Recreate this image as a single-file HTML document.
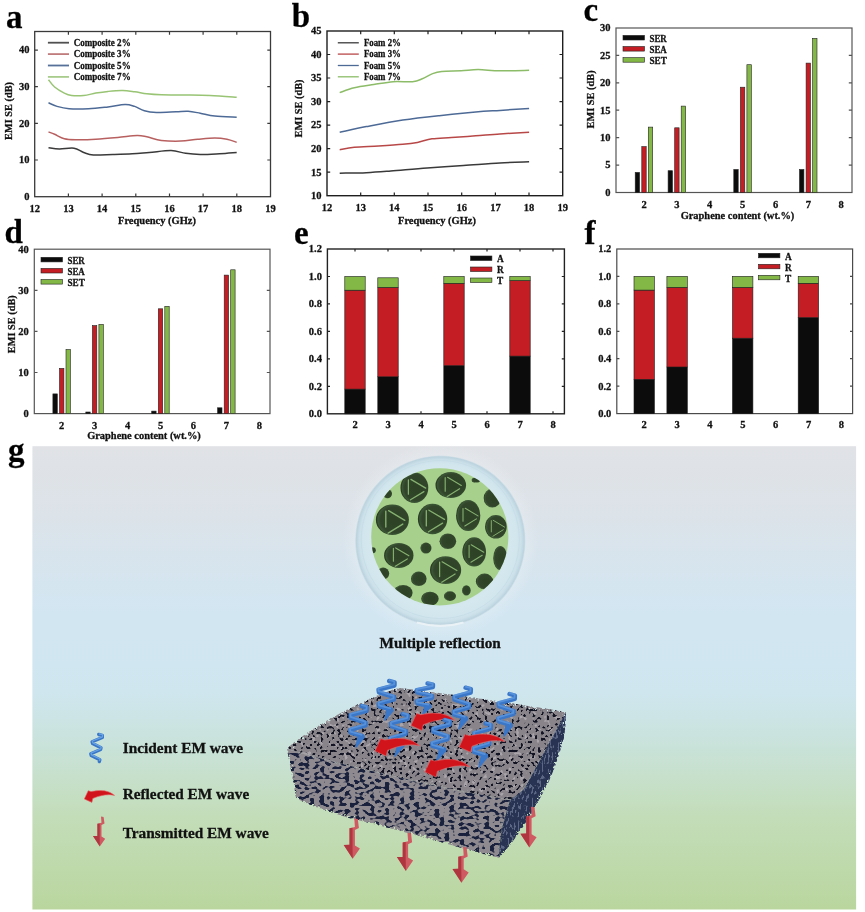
<!DOCTYPE html><html><head><meta charset="utf-8"><style>html,body{margin:0;padding:0;background:#fff;width:865px;height:912px;overflow:hidden}svg{display:block;will-change:transform} text{stroke:#111;stroke-width:0.28px}</style></head><body>
<svg width="865" height="912" viewBox="0 0 865 912" font-family="Liberation Serif" font-weight="bold">
<rect width="865" height="912" fill="#fff"/>
<text x="6.0" y="27.7" font-size="33" text-anchor="start" fill="#000" >a</text>
<text x="291.8" y="27.2" font-size="33" text-anchor="start" fill="#000" >b</text>
<text x="583.5" y="20.6" font-size="33" text-anchor="start" fill="#000" >c</text>
<text x="4.5" y="243.0" font-size="33" text-anchor="start" fill="#000" >d</text>
<text x="294.0" y="243.7" font-size="33" text-anchor="start" fill="#000" >e</text>
<text x="584.5" y="243.7" font-size="33" text-anchor="start" fill="#000" >f</text>
<text x="8.0" y="461.0" font-size="33" text-anchor="start" fill="#000" >g</text>
<rect x="34.7" y="31.5" width="235.8" height="165.2" fill="none" stroke="#3a3a3a" stroke-width="1.3"/><path d="M68.4,196.7v-3.2M68.4,31.5v3.2M102.1,196.7v-3.2M102.1,31.5v3.2M135.8,196.7v-3.2M135.8,31.5v3.2M169.5,196.7v-3.2M169.5,31.5v3.2M203.1,196.7v-3.2M203.1,31.5v3.2M236.8,196.7v-3.2M236.8,31.5v3.2M34.7,160.0h3.2M270.5,160.0h-3.2M34.7,123.4h3.2M270.5,123.4h-3.2M34.7,86.7h3.2M270.5,86.7h-3.2M34.7,50.1h3.2M270.5,50.1h-3.2" stroke="#3a3a3a" stroke-width="1.2" fill="none"/>
<text x="34.7" y="212.0" font-size="10.5" text-anchor="middle" fill="#111" >12</text>
<text x="68.4" y="212.0" font-size="10.5" text-anchor="middle" fill="#111" >13</text>
<text x="102.1" y="212.0" font-size="10.5" text-anchor="middle" fill="#111" >14</text>
<text x="135.8" y="212.0" font-size="10.5" text-anchor="middle" fill="#111" >15</text>
<text x="169.5" y="212.0" font-size="10.5" text-anchor="middle" fill="#111" >16</text>
<text x="203.1" y="212.0" font-size="10.5" text-anchor="middle" fill="#111" >17</text>
<text x="236.8" y="212.0" font-size="10.5" text-anchor="middle" fill="#111" >18</text>
<text x="270.5" y="212.0" font-size="10.5" text-anchor="middle" fill="#111" >19</text>
<text x="29.6" y="200.0" font-size="10.5" text-anchor="end" fill="#111" >0</text>
<text x="29.6" y="163.3" font-size="10.5" text-anchor="end" fill="#111" >10</text>
<text x="29.6" y="126.7" font-size="10.5" text-anchor="end" fill="#111" >20</text>
<text x="29.6" y="90.0" font-size="10.5" text-anchor="end" fill="#111" >30</text>
<text x="29.6" y="53.4" font-size="10.5" text-anchor="end" fill="#111" >40</text>
<text x="157.0" y="223.6" font-size="10.4" text-anchor="middle" textLength="78" lengthAdjust="spacingAndGlyphs" fill="#111" >Frequency (GHz)</text>
<text transform="translate(12.3,111) rotate(-90)" font-size="10.3" text-anchor="middle" fill="#111" textLength="58" lengthAdjust="spacingAndGlyphs">EMI SE (dB)</text>
<path d="M47.9,42.7H69" stroke="#505050" stroke-width="1.8"/>
<text x="73.7" y="46.0" font-size="9.5" text-anchor="start" textLength="57" lengthAdjust="spacingAndGlyphs" fill="#111" >Composite 2%</text>
<path d="M47.9,54.1H69" stroke="#c07c7c" stroke-width="1.8"/>
<text x="73.7" y="57.4" font-size="9.5" text-anchor="start" textLength="57" lengthAdjust="spacingAndGlyphs" fill="#111" >Composite 3%</text>
<path d="M47.9,65.5H69" stroke="#56709a" stroke-width="1.8"/>
<text x="73.7" y="68.8" font-size="9.5" text-anchor="start" textLength="57" lengthAdjust="spacingAndGlyphs" fill="#111" >Composite 5%</text>
<path d="M47.9,76.9H69" stroke="#a8cc8c" stroke-width="1.8"/>
<text x="73.7" y="80.2" font-size="9.5" text-anchor="start" textLength="57" lengthAdjust="spacingAndGlyphs" fill="#111" >Composite 7%</text>
<path d="M48.5,79.7 C49.5,80.9 52.0,84.8 54.6,87.0 C57.2,89.2 61.5,91.7 64.3,93.1 C67.1,94.5 68.4,95.1 71.6,95.5 C74.8,95.9 79.7,95.9 83.7,95.5 C87.7,95.1 91.8,93.8 95.8,93.1 C99.8,92.4 103.5,91.8 108.0,91.4 C112.5,91.0 118.0,90.5 122.5,90.6 C127.0,90.7 130.6,91.3 134.7,91.8 C138.8,92.3 142.4,93.3 146.8,93.8 C151.2,94.3 154.9,94.6 161.4,94.8 C167.9,95.0 177.6,94.9 185.7,95.0 C193.8,95.1 201.5,95.1 210.0,95.5 C218.5,95.9 232.2,96.9 236.7,97.2" stroke="#98c474" stroke-width="1.5" fill="none"/>
<path d="M48.5,102.8 C49.9,103.4 53.6,105.4 57.0,106.4 C60.4,107.4 63.8,108.4 69.1,108.8 C74.4,109.2 82.1,109.1 88.6,108.8 C95.1,108.5 101.9,107.6 108.0,106.9 C114.1,106.2 120.5,104.6 125.0,104.5 C129.4,104.4 131.5,105.4 134.7,106.4 C137.9,107.5 140.8,109.8 144.4,110.8 C148.0,111.8 151.2,112.3 156.5,112.5 C161.8,112.7 170.7,112.0 176.0,111.8 C181.3,111.6 184.1,111.1 188.1,111.3 C192.1,111.5 195.8,112.4 200.2,113.2 C204.6,114.0 208.7,115.4 214.8,116.1 C220.9,116.8 233.0,117.1 236.7,117.3" stroke="#4d6a96" stroke-width="1.5" fill="none"/>
<path d="M48.5,131.9 C49.5,132.3 52.0,133.2 54.6,134.3 C57.2,135.4 60.7,137.8 64.3,138.7 C67.9,139.6 71.2,139.6 76.4,139.7 C81.7,139.8 88.9,139.6 95.8,139.2 C102.7,138.8 110.8,138.1 117.7,137.5 C124.6,136.9 132.2,135.6 137.1,135.5 C141.9,135.4 142.8,136.0 146.8,136.8 C150.9,137.6 155.7,139.7 161.4,140.4 C167.1,141.1 174.7,141.3 180.8,141.1 C186.9,140.9 192.1,139.7 197.8,139.2 C203.5,138.7 209.9,138.0 214.8,138.0 C219.7,138.0 223.3,138.5 227.0,139.2 C230.7,139.9 235.1,141.8 236.7,142.3" stroke="#b86060" stroke-width="1.5" fill="none"/>
<path d="M48.5,147.7 C50.3,147.9 55.1,148.8 59.4,148.9 C63.6,149.0 70.0,147.6 74.0,148.2 C78.0,148.8 80.5,151.4 83.7,152.5 C86.9,153.6 88.6,154.7 93.4,155.0 C98.2,155.3 106.3,154.7 112.8,154.5 C119.3,154.3 126.2,154.1 132.3,153.8 C138.4,153.5 142.7,153.0 149.2,152.5 C155.7,152.0 165.0,150.5 171.1,150.6 C177.2,150.7 180.8,152.7 185.7,153.3 C190.5,154.0 194.5,154.4 200.2,154.5 C205.9,154.6 213.6,154.1 219.7,153.8 C225.8,153.5 233.9,152.7 236.7,152.5" stroke="#3a3a3a" stroke-width="1.5" fill="none"/>
<rect x="327" y="31" width="235.7" height="164.7" fill="none" stroke="#1e1e1e" stroke-width="1.4"/><path d="M360.7,195.7v-3.2M360.7,31v3.2M394.3,195.7v-3.2M394.3,31v3.2M428.0,195.7v-3.2M428.0,31v3.2M461.7,195.7v-3.2M461.7,31v3.2M495.4,195.7v-3.2M495.4,31v3.2M529.0,195.7v-3.2M529.0,31v3.2M327,172.2h3.2M562.7,172.2h-3.2M327,148.6h3.2M562.7,148.6h-3.2M327,125.1h3.2M562.7,125.1h-3.2M327,101.6h3.2M562.7,101.6h-3.2M327,78.0h3.2M562.7,78.0h-3.2M327,54.5h3.2M562.7,54.5h-3.2" stroke="#1e1e1e" stroke-width="1.2" fill="none"/>
<text x="327.0" y="211.0" font-size="10.5" text-anchor="middle" fill="#111" >12</text>
<text x="360.7" y="211.0" font-size="10.5" text-anchor="middle" fill="#111" >13</text>
<text x="394.3" y="211.0" font-size="10.5" text-anchor="middle" fill="#111" >14</text>
<text x="428.0" y="211.0" font-size="10.5" text-anchor="middle" fill="#111" >15</text>
<text x="461.7" y="211.0" font-size="10.5" text-anchor="middle" fill="#111" >16</text>
<text x="495.4" y="211.0" font-size="10.5" text-anchor="middle" fill="#111" >17</text>
<text x="529.0" y="211.0" font-size="10.5" text-anchor="middle" fill="#111" >18</text>
<text x="562.7" y="211.0" font-size="10.5" text-anchor="middle" fill="#111" >19</text>
<text x="321.6" y="199.0" font-size="10.5" text-anchor="end" fill="#111" >10</text>
<text x="321.6" y="175.5" font-size="10.5" text-anchor="end" fill="#111" >15</text>
<text x="321.6" y="151.9" font-size="10.5" text-anchor="end" fill="#111" >20</text>
<text x="321.6" y="128.4" font-size="10.5" text-anchor="end" fill="#111" >25</text>
<text x="321.6" y="104.9" font-size="10.5" text-anchor="end" fill="#111" >30</text>
<text x="321.6" y="81.3" font-size="10.5" text-anchor="end" fill="#111" >35</text>
<text x="321.6" y="57.8" font-size="10.5" text-anchor="end" fill="#111" >40</text>
<text x="321.6" y="34.3" font-size="10.5" text-anchor="end" fill="#111" >45</text>
<text x="437.0" y="224.0" font-size="10.4" text-anchor="middle" textLength="78" lengthAdjust="spacingAndGlyphs" fill="#111" >Frequency (GHz)</text>
<text transform="translate(302.3,108.5) rotate(-90)" font-size="10.3" text-anchor="middle" fill="#111" textLength="58" lengthAdjust="spacingAndGlyphs">EMI SE (dB)</text>
<path d="M337.8,42.8H358.8" stroke="#3a3a3a" stroke-width="1.3"/>
<text x="363.9" y="46.1" font-size="9.5" text-anchor="start" textLength="37" lengthAdjust="spacingAndGlyphs" fill="#111" >Foam 2%</text>
<path d="M337.8,54.1H358.8" stroke="#b84848" stroke-width="1.3"/>
<text x="363.9" y="57.4" font-size="9.5" text-anchor="start" textLength="37" lengthAdjust="spacingAndGlyphs" fill="#111" >Foam 3%</text>
<path d="M337.8,65.5H358.8" stroke="#4d6a96" stroke-width="1.3"/>
<text x="363.9" y="68.8" font-size="9.5" text-anchor="start" textLength="37" lengthAdjust="spacingAndGlyphs" fill="#111" >Foam 5%</text>
<path d="M337.8,76.8H358.8" stroke="#8cbc68" stroke-width="1.3"/>
<text x="363.9" y="80.1" font-size="9.5" text-anchor="start" textLength="37" lengthAdjust="spacingAndGlyphs" fill="#111" >Foam 7%</text>
<path d="M339.7,92.6 C342.1,91.8 348.6,89.1 354.3,87.8 C360.0,86.5 367.2,85.6 373.7,84.6 C380.2,83.6 386.6,82.2 393.1,81.7 C399.6,81.2 407.6,82.2 412.5,81.7 C417.4,81.2 419.1,80.1 422.3,78.8 C425.6,77.5 428.8,75.1 432.0,73.9 C435.2,72.7 436.8,72.0 441.7,71.5 C446.6,71.0 455.0,71.1 461.1,70.8 C467.2,70.5 471.6,69.6 478.1,69.6 C484.6,69.6 491.5,70.7 500.0,70.8 C508.5,70.9 524.2,70.4 529.1,70.3" stroke="#8cbc68" stroke-width="1.5" fill="none"/>
<path d="M339.7,132.2 C344.1,131.3 355.9,128.6 366.4,126.6 C376.9,124.6 390.7,121.9 402.8,120.1 C414.9,118.3 427.1,117.0 439.2,115.7 C451.3,114.4 465.6,113.0 475.7,112.1 C485.8,111.2 491.0,111.0 499.9,110.4 C508.8,109.8 524.2,108.7 529.1,108.4" stroke="#4d6a96" stroke-width="1.5" fill="none"/>
<path d="M339.7,149.7 C342.1,149.3 347.8,147.9 354.3,147.3 C360.8,146.7 370.5,146.5 378.6,146.0 C386.7,145.5 396.3,144.9 402.8,144.3 C409.3,143.7 412.5,143.3 417.4,142.4 C422.3,141.5 426.3,139.6 432.0,138.8 C437.7,138.0 444.1,138.0 451.4,137.5 C458.7,137.0 467.6,136.4 475.7,135.8 C483.8,135.2 491.0,134.5 499.9,133.9 C508.8,133.3 524.2,132.5 529.1,132.2" stroke="#b84848" stroke-width="1.5" fill="none"/>
<path d="M339.7,173.2 C344.1,173.1 357.9,173.1 366.4,172.7 C374.9,172.3 380.6,171.8 390.7,171.0 C400.8,170.2 415.0,168.8 427.1,167.9 C439.2,167.0 451.4,166.3 463.5,165.5 C475.6,164.7 489.0,163.6 499.9,163.0 C510.8,162.4 524.2,162.0 529.1,161.8" stroke="#3a3a3a" stroke-width="1.5" fill="none"/>
<rect x="616" y="28" width="236.0" height="164.5" fill="none" stroke="#555" stroke-width="1.2"/><path d="M616,165.1h3.2M852,165.1h-3.2M616,137.7h3.2M852,137.7h-3.2M616,110.2h3.2M852,110.2h-3.2M616,82.8h3.2M852,82.8h-3.2M616,55.4h3.2M852,55.4h-3.2" stroke="#555" stroke-width="1.2" fill="none"/>
<text x="644.0" y="208.2" font-size="10.5" text-anchor="middle" fill="#111" >2</text>
<text x="676.9" y="208.2" font-size="10.5" text-anchor="middle" fill="#111" >3</text>
<text x="709.7" y="208.2" font-size="10.5" text-anchor="middle" fill="#111" >4</text>
<text x="742.6" y="208.2" font-size="10.5" text-anchor="middle" fill="#111" >5</text>
<text x="775.5" y="208.2" font-size="10.5" text-anchor="middle" fill="#111" >6</text>
<text x="808.4" y="208.2" font-size="10.5" text-anchor="middle" fill="#111" >7</text>
<text x="841.2" y="208.2" font-size="10.5" text-anchor="middle" fill="#111" >8</text>
<text x="610.5" y="195.8" font-size="10.5" text-anchor="end" fill="#111" >0</text>
<text x="610.5" y="168.4" font-size="10.5" text-anchor="end" fill="#111" >5</text>
<text x="610.5" y="141.0" font-size="10.5" text-anchor="end" fill="#111" >10</text>
<text x="610.5" y="113.5" font-size="10.5" text-anchor="end" fill="#111" >15</text>
<text x="610.5" y="86.1" font-size="10.5" text-anchor="end" fill="#111" >20</text>
<text x="610.5" y="58.7" font-size="10.5" text-anchor="end" fill="#111" >25</text>
<text x="610.5" y="31.3" font-size="10.5" text-anchor="end" fill="#111" >30</text>
<rect x="635.2" y="172.4" width="4.4" height="20.1" fill="#0c0c0c" stroke="#222" stroke-width="0.6"/>
<rect x="641.8" y="146.6" width="4.4" height="45.9" fill="#c41e24" stroke="#222" stroke-width="0.6"/>
<rect x="648.3" y="127.1" width="4.4" height="65.4" fill="#84b846" stroke="#222" stroke-width="0.6"/>
<rect x="668.1" y="170.7" width="4.4" height="21.8" fill="#0c0c0c" stroke="#222" stroke-width="0.6"/>
<rect x="674.7" y="127.8" width="4.4" height="64.7" fill="#c41e24" stroke="#222" stroke-width="0.6"/>
<rect x="681.2" y="106.1" width="4.4" height="86.4" fill="#84b846" stroke="#222" stroke-width="0.6"/>
<rect x="733.8" y="169.5" width="4.4" height="23.0" fill="#0c0c0c" stroke="#222" stroke-width="0.6"/>
<rect x="740.4" y="87.2" width="4.4" height="105.3" fill="#c41e24" stroke="#222" stroke-width="0.6"/>
<rect x="746.9" y="64.7" width="4.4" height="127.8" fill="#84b846" stroke="#222" stroke-width="0.6"/>
<rect x="799.5" y="169.5" width="4.4" height="23.0" fill="#0c0c0c" stroke="#222" stroke-width="0.6"/>
<rect x="806.1" y="63.1" width="4.4" height="129.4" fill="#c41e24" stroke="#222" stroke-width="0.6"/>
<rect x="812.6" y="38.4" width="4.4" height="154.1" fill="#84b846" stroke="#222" stroke-width="0.6"/>
<rect x="623" y="35.4" width="21.5" height="4.6" fill="#0c0c0c" stroke="#222" stroke-width="0.6"/>
<text x="649.5" y="41.6" font-size="9.3" text-anchor="start" textLength="17.3" lengthAdjust="spacingAndGlyphs" fill="#111" >SER</text>
<rect x="623" y="46.5" width="21.5" height="4.6" fill="#c41e24" stroke="#222" stroke-width="0.6"/>
<text x="649.5" y="52.7" font-size="9.3" text-anchor="start" textLength="17.3" lengthAdjust="spacingAndGlyphs" fill="#111" >SEA</text>
<rect x="623" y="57.6" width="21.5" height="4.6" fill="#84b846" stroke="#222" stroke-width="0.6"/>
<text x="649.5" y="63.8" font-size="9.3" text-anchor="start" textLength="17.3" lengthAdjust="spacingAndGlyphs" fill="#111" >SET</text>
<text transform="translate(594.3,99.4) rotate(-90)" font-size="10.3" text-anchor="middle" fill="#111" textLength="58" lengthAdjust="spacingAndGlyphs">EMI SE (dB)</text>
<text x="737.5" y="219.2" font-size="10.4" text-anchor="middle" textLength="113.7" lengthAdjust="spacingAndGlyphs" fill="#111" >Graphene content (wt.%)</text>
<rect x="34.3" y="249.2" width="235.7" height="164.4" fill="none" stroke="#555" stroke-width="1.2"/><path d="M34.3,372.5h3.2M270,372.5h-3.2M34.3,331.4h3.2M270,331.4h-3.2M34.3,290.3h3.2M270,290.3h-3.2" stroke="#555" stroke-width="1.2" fill="none"/>
<text x="61.7" y="428.5" font-size="10.5" text-anchor="middle" fill="#111" >2</text>
<text x="94.6" y="428.5" font-size="10.5" text-anchor="middle" fill="#111" >3</text>
<text x="127.6" y="428.5" font-size="10.5" text-anchor="middle" fill="#111" >4</text>
<text x="160.5" y="428.5" font-size="10.5" text-anchor="middle" fill="#111" >5</text>
<text x="193.4" y="428.5" font-size="10.5" text-anchor="middle" fill="#111" >6</text>
<text x="226.4" y="428.5" font-size="10.5" text-anchor="middle" fill="#111" >7</text>
<text x="259.3" y="428.5" font-size="10.5" text-anchor="middle" fill="#111" >8</text>
<text x="28.8" y="416.9" font-size="10.5" text-anchor="end" fill="#111" >0</text>
<text x="28.8" y="375.8" font-size="10.5" text-anchor="end" fill="#111" >10</text>
<text x="28.8" y="334.7" font-size="10.5" text-anchor="end" fill="#111" >20</text>
<text x="28.8" y="293.6" font-size="10.5" text-anchor="end" fill="#111" >30</text>
<text x="28.8" y="252.5" font-size="10.5" text-anchor="end" fill="#111" >40</text>
<rect x="52.9" y="393.9" width="4.4" height="19.7" fill="#0c0c0c" stroke="#222" stroke-width="0.6"/>
<rect x="59.5" y="368.4" width="4.4" height="45.2" fill="#c41e24" stroke="#222" stroke-width="0.6"/>
<rect x="66.0" y="349.5" width="4.4" height="64.1" fill="#84b846" stroke="#222" stroke-width="0.6"/>
<rect x="85.8" y="412.0" width="4.4" height="1.6" fill="#0c0c0c" stroke="#222" stroke-width="0.6"/>
<rect x="92.4" y="325.6" width="4.4" height="88.0" fill="#c41e24" stroke="#222" stroke-width="0.6"/>
<rect x="98.9" y="324.4" width="4.4" height="89.2" fill="#84b846" stroke="#222" stroke-width="0.6"/>
<rect x="151.7" y="411.1" width="4.4" height="2.5" fill="#0c0c0c" stroke="#222" stroke-width="0.6"/>
<rect x="158.3" y="308.8" width="4.4" height="104.8" fill="#c41e24" stroke="#222" stroke-width="0.6"/>
<rect x="164.8" y="306.3" width="4.4" height="107.3" fill="#84b846" stroke="#222" stroke-width="0.6"/>
<rect x="217.6" y="407.8" width="4.4" height="5.8" fill="#0c0c0c" stroke="#222" stroke-width="0.6"/>
<rect x="224.2" y="275.1" width="4.4" height="138.5" fill="#c41e24" stroke="#222" stroke-width="0.6"/>
<rect x="230.7" y="269.8" width="4.4" height="143.9" fill="#84b846" stroke="#222" stroke-width="0.6"/>
<rect x="41" y="257.3" width="21.5" height="4.6" fill="#0c0c0c" stroke="#222" stroke-width="0.6"/>
<text x="67.5" y="263.5" font-size="9.3" text-anchor="start" textLength="17.3" lengthAdjust="spacingAndGlyphs" fill="#111" >SER</text>
<rect x="41" y="268.4" width="21.5" height="4.6" fill="#c41e24" stroke="#222" stroke-width="0.6"/>
<text x="67.5" y="274.6" font-size="9.3" text-anchor="start" textLength="17.3" lengthAdjust="spacingAndGlyphs" fill="#111" >SEA</text>
<rect x="41" y="279.5" width="21.5" height="4.6" fill="#84b846" stroke="#222" stroke-width="0.6"/>
<text x="67.5" y="285.7" font-size="9.3" text-anchor="start" textLength="17.3" lengthAdjust="spacingAndGlyphs" fill="#111" >SET</text>
<text transform="translate(15.4,324.2) rotate(-90)" font-size="10.3" text-anchor="middle" fill="#111" textLength="58" lengthAdjust="spacingAndGlyphs">EMI SE (dB)</text>
<text x="144.0" y="439.4" font-size="10.4" text-anchor="middle" textLength="113.7" lengthAdjust="spacingAndGlyphs" fill="#111" >Graphene content (wt.%)</text>
<rect x="327.4" y="249" width="237.0" height="164.8" fill="none" stroke="#222" stroke-width="1.4"/><path d="M355.0,413.8v-2.6M355.0,249v2.6M388.0,413.8v-2.6M388.0,249v2.6M421.0,413.8v-2.6M421.0,249v2.6M454.0,413.8v-2.6M454.0,249v2.6M487.0,413.8v-2.6M487.0,249v2.6M520.0,413.8v-2.6M520.0,249v2.6M553.0,413.8v-2.6M553.0,249v2.6M327.4,386.3h2.6M564.4,386.3h-2.6M327.4,358.9h2.6M564.4,358.9h-2.6M327.4,331.4h2.6M564.4,331.4h-2.6M327.4,303.9h2.6M564.4,303.9h-2.6M327.4,276.5h2.6M564.4,276.5h-2.6" stroke="#222" stroke-width="1.2" fill="none"/>
<text x="355.0" y="428.2" font-size="10.5" text-anchor="middle" fill="#111" >2</text>
<text x="388.0" y="428.2" font-size="10.5" text-anchor="middle" fill="#111" >3</text>
<text x="421.0" y="428.2" font-size="10.5" text-anchor="middle" fill="#111" >4</text>
<text x="454.0" y="428.2" font-size="10.5" text-anchor="middle" fill="#111" >5</text>
<text x="487.0" y="428.2" font-size="10.5" text-anchor="middle" fill="#111" >6</text>
<text x="520.0" y="428.2" font-size="10.5" text-anchor="middle" fill="#111" >7</text>
<text x="553.0" y="428.2" font-size="10.5" text-anchor="middle" fill="#111" >8</text>
<text x="321.9" y="417.1" font-size="10.5" text-anchor="end" fill="#111" >0.0</text>
<text x="321.9" y="389.6" font-size="10.5" text-anchor="end" fill="#111" >0.2</text>
<text x="321.9" y="362.2" font-size="10.5" text-anchor="end" fill="#111" >0.4</text>
<text x="321.9" y="334.7" font-size="10.5" text-anchor="end" fill="#111" >0.6</text>
<text x="321.9" y="307.2" font-size="10.5" text-anchor="end" fill="#111" >0.8</text>
<text x="321.9" y="279.8" font-size="10.5" text-anchor="end" fill="#111" >1.0</text>
<text x="321.9" y="252.3" font-size="10.5" text-anchor="end" fill="#111" >1.2</text>
<rect x="344.8" y="389.1" width="20.4" height="24.7" fill="#0c0c0c" stroke="#1a1a1a" stroke-width="0.6"/>
<rect x="344.8" y="290.2" width="20.4" height="98.9" fill="#c41e24" stroke="#1a1a1a" stroke-width="0.6"/>
<rect x="344.8" y="276.5" width="20.4" height="13.7" fill="#84b846" stroke="#1a1a1a" stroke-width="0.6"/>
<rect x="377.8" y="376.7" width="20.4" height="37.1" fill="#0c0c0c" stroke="#1a1a1a" stroke-width="0.6"/>
<rect x="377.8" y="287.5" width="20.4" height="89.3" fill="#c41e24" stroke="#1a1a1a" stroke-width="0.6"/>
<rect x="377.8" y="277.8" width="20.4" height="9.6" fill="#84b846" stroke="#1a1a1a" stroke-width="0.6"/>
<rect x="443.8" y="365.7" width="20.4" height="48.1" fill="#0c0c0c" stroke="#1a1a1a" stroke-width="0.6"/>
<rect x="443.8" y="283.3" width="20.4" height="82.4" fill="#c41e24" stroke="#1a1a1a" stroke-width="0.6"/>
<rect x="443.8" y="276.5" width="20.4" height="6.9" fill="#84b846" stroke="#1a1a1a" stroke-width="0.6"/>
<rect x="509.8" y="356.1" width="20.4" height="57.7" fill="#0c0c0c" stroke="#1a1a1a" stroke-width="0.6"/>
<rect x="509.8" y="280.6" width="20.4" height="75.5" fill="#c41e24" stroke="#1a1a1a" stroke-width="0.6"/>
<rect x="509.8" y="276.5" width="20.4" height="4.1" fill="#84b846" stroke="#1a1a1a" stroke-width="0.6"/>
<rect x="470.5" y="256.0" width="21.4" height="4.5" fill="#0c0c0c" stroke="#222" stroke-width="0.6"/>
<text x="497.0" y="262.2" font-size="9.3" text-anchor="start" fill="#111" >A</text>
<rect x="470.5" y="267.0" width="21.4" height="4.5" fill="#c41e24" stroke="#222" stroke-width="0.6"/>
<text x="497.0" y="273.2" font-size="9.3" text-anchor="start" fill="#111" >R</text>
<rect x="470.5" y="278.0" width="21.4" height="4.5" fill="#84b846" stroke="#222" stroke-width="0.6"/>
<text x="497.0" y="284.2" font-size="9.3" text-anchor="start" fill="#111" >T</text>
<rect x="616.8" y="249" width="235.8" height="164.6" fill="none" stroke="#4a4a4a" stroke-width="1.2"/><path d="M616.8,386.2h2.6M852.6,386.2h-2.6M616.8,358.7h2.6M852.6,358.7h-2.6M616.8,331.3h2.6M852.6,331.3h-2.6M616.8,303.9h2.6M852.6,303.9h-2.6M616.8,276.4h2.6M852.6,276.4h-2.6" stroke="#4a4a4a" stroke-width="1.2" fill="none"/>
<text x="644.2" y="428.2" font-size="10.5" text-anchor="middle" fill="#111" >2</text>
<text x="677.1" y="428.2" font-size="10.5" text-anchor="middle" fill="#111" >3</text>
<text x="709.9" y="428.2" font-size="10.5" text-anchor="middle" fill="#111" >4</text>
<text x="742.8" y="428.2" font-size="10.5" text-anchor="middle" fill="#111" >5</text>
<text x="775.6" y="428.2" font-size="10.5" text-anchor="middle" fill="#111" >6</text>
<text x="808.5" y="428.2" font-size="10.5" text-anchor="middle" fill="#111" >7</text>
<text x="841.3" y="428.2" font-size="10.5" text-anchor="middle" fill="#111" >8</text>
<text x="611.3" y="416.9" font-size="10.5" text-anchor="end" fill="#111" >0.0</text>
<text x="611.3" y="389.5" font-size="10.5" text-anchor="end" fill="#111" >0.2</text>
<text x="611.3" y="362.0" font-size="10.5" text-anchor="end" fill="#111" >0.4</text>
<text x="611.3" y="334.6" font-size="10.5" text-anchor="end" fill="#111" >0.6</text>
<text x="611.3" y="307.2" font-size="10.5" text-anchor="end" fill="#111" >0.8</text>
<text x="611.3" y="279.7" font-size="10.5" text-anchor="end" fill="#111" >1.0</text>
<text x="611.3" y="252.3" font-size="10.5" text-anchor="end" fill="#111" >1.2</text>
<rect x="634.0" y="379.3" width="20.4" height="34.3" fill="#0c0c0c" stroke="#1a1a1a" stroke-width="0.6"/>
<rect x="634.0" y="290.1" width="20.4" height="89.2" fill="#c41e24" stroke="#1a1a1a" stroke-width="0.6"/>
<rect x="634.0" y="276.4" width="20.4" height="13.7" fill="#84b846" stroke="#1a1a1a" stroke-width="0.6"/>
<rect x="666.9" y="367.0" width="20.4" height="46.6" fill="#0c0c0c" stroke="#1a1a1a" stroke-width="0.6"/>
<rect x="666.9" y="287.4" width="20.4" height="79.6" fill="#c41e24" stroke="#1a1a1a" stroke-width="0.6"/>
<rect x="666.9" y="276.4" width="20.4" height="11.0" fill="#84b846" stroke="#1a1a1a" stroke-width="0.6"/>
<rect x="732.5" y="338.2" width="20.4" height="75.4" fill="#0c0c0c" stroke="#1a1a1a" stroke-width="0.6"/>
<rect x="732.5" y="287.4" width="20.4" height="50.8" fill="#c41e24" stroke="#1a1a1a" stroke-width="0.6"/>
<rect x="732.5" y="276.4" width="20.4" height="11.0" fill="#84b846" stroke="#1a1a1a" stroke-width="0.6"/>
<rect x="798.2" y="317.6" width="20.4" height="96.0" fill="#0c0c0c" stroke="#1a1a1a" stroke-width="0.6"/>
<rect x="798.2" y="283.3" width="20.4" height="34.3" fill="#c41e24" stroke="#1a1a1a" stroke-width="0.6"/>
<rect x="798.2" y="276.4" width="20.4" height="6.9" fill="#84b846" stroke="#1a1a1a" stroke-width="0.6"/>
<rect x="758.5" y="253.3" width="21.4" height="4.5" fill="#0c0c0c" stroke="#222" stroke-width="0.6"/>
<text x="785.0" y="259.5" font-size="9.3" text-anchor="start" fill="#111" >A</text>
<rect x="758.5" y="264.3" width="21.4" height="4.5" fill="#c41e24" stroke="#222" stroke-width="0.6"/>
<text x="785.0" y="270.5" font-size="9.3" text-anchor="start" fill="#111" >R</text>
<rect x="758.5" y="275.3" width="21.4" height="4.5" fill="#84b846" stroke="#222" stroke-width="0.6"/>
<text x="785.0" y="281.5" font-size="9.3" text-anchor="start" fill="#111" >T</text>
<defs>
<linearGradient id="bg" x1="0" y1="0" x2="0" y2="1">
 <stop offset="0" stop-color="#e0e2e6"/>
 <stop offset="0.15" stop-color="#dce3e9"/>
 <stop offset="0.36" stop-color="#d2e6f2"/>
 <stop offset="0.53" stop-color="#cfe6ef"/>
 <stop offset="0.65" stop-color="#c9e2d9"/>
 <stop offset="0.8" stop-color="#c3ddb9"/>
 <stop offset="1" stop-color="#bad69e"/>
</linearGradient>
<radialGradient id="halo" cx="0.5" cy="0.5" r="0.5">
 <stop offset="0.6" stop-color="#eef3f6" stop-opacity="0.9"/>
 <stop offset="1" stop-color="#eef3f6" stop-opacity="0"/>
</radialGradient>
<radialGradient id="glass" cx="0.5" cy="0.5" r="0.5">
 <stop offset="0.78" stop-color="#d6e8ef"/>
 <stop offset="0.9" stop-color="#d2e6ee"/>
 <stop offset="0.95" stop-color="#cbe0e9"/>
 <stop offset="0.985" stop-color="#bcd4df"/>
 <stop offset="1" stop-color="#c6dae3" stop-opacity="0.5"/>
</radialGradient>
<radialGradient id="hole" cx="0.55" cy="0.5" r="0.55" fx="0.6" fy="0.5">
 <stop offset="0" stop-color="#2e4226"/>
 <stop offset="0.75" stop-color="#30452a"/>
 <stop offset="0.9" stop-color="#3c5636"/>
 <stop offset="1" stop-color="#1f2e1a"/>
</radialGradient>
<filter id="soft" x="-20%" y="-20%" width="140%" height="140%"><feGaussianBlur stdDeviation="0.6"/></filter>
<filter id="foamtex" x="-5%" y="-5%" width="110%" height="110%">
 <feTurbulence type="turbulence" baseFrequency="0.42" numOctaves="2" seed="7" result="n"/>
 <feColorMatrix in="n" type="matrix" values="0 0 0 0 0.16  0 0 0 0 0.18  0 0 0 0 0.30  -9 0 0 0 2.1" result="pores"/>
 <feComposite in="pores" in2="SourceGraphic" operator="atop" result="t"/>
 <feTurbulence type="fractalNoise" baseFrequency="0.5" numOctaves="1" seed="3" result="n2"/>
 <feDisplacementMap in="t" in2="n2" scale="3" xChannelSelector="R" yChannelSelector="G"/>
</filter>
<clipPath id="disc"><circle cx="439.8" cy="536.8" r="68.6"/></clipPath>
</defs>
<rect x="32.4" y="446.2" width="823.7" height="463.3" fill="url(#bg)"/>
<circle cx="440.3" cy="540.7" r="98" fill="url(#halo)"/>
<circle cx="440.3" cy="540.7" r="85.2" fill="url(#glass)"/>
<circle cx="440" cy="537.2" r="70" fill="#d4e7ee"/><path d="M417,622.5 A82.5 82.5 0 0 0 463.5,622.5" stroke="#eef5f8" stroke-width="2.2" fill="none" opacity="0.85"/><circle cx="440.3" cy="539.5" r="79" fill="none" stroke="#c4dbe5" stroke-width="1" opacity="0.7"/>
<g clip-path="url(#disc)">
<rect x="370" y="467" width="140" height="140" fill="#a7d08c"/>
<ellipse cx="414.4" cy="487.7" rx="13.9" ry="15.3" fill="url(#hole)" filter="url(#soft)"/>
<path d="M408.4,479.8L408.4,494.2M410.9,479.4L425.7,488.1M423.9,491.6L410.5,499.8" stroke="#86b070" stroke-width="1.25" fill="none" stroke-linecap="round"/>
<ellipse cx="450.8" cy="485.1" rx="15.3" ry="13" fill="url(#hole)" filter="url(#soft)"/>
<path d="M445.2,477.7L445.2,491.2M447.6,477.3L461.3,485.5M459.6,488.7L447.2,496.4" stroke="#86b070" stroke-width="1.17" fill="none" stroke-linecap="round"/>
<ellipse cx="476" cy="480" rx="4.3" ry="2.6" fill="url(#hole)" filter="url(#soft)"/>
<ellipse cx="387.5" cy="493.8" rx="4.5" ry="4.5" fill="url(#hole)" filter="url(#soft)"/>
<ellipse cx="492.4" cy="498.1" rx="8.7" ry="9.5" fill="url(#hole)" filter="url(#soft)"/>
<ellipse cx="392.4" cy="519.8" rx="16.5" ry="15.3" fill="url(#hole)" filter="url(#soft)"/>
<path d="M385.8,511.1L385.8,527.0M388.6,510.6L404.8,520.3M402.8,524.1L388.1,533.1" stroke="#86b070" stroke-width="1.38" fill="none" stroke-linecap="round"/>
<ellipse cx="432.6" cy="519" rx="14.7" ry="15.3" fill="url(#hole)" filter="url(#soft)"/>
<path d="M426.3,510.6L426.3,525.9M428.9,510.2L444.5,519.4M442.6,523.1L428.5,531.8" stroke="#86b070" stroke-width="1.32" fill="none" stroke-linecap="round"/>
<ellipse cx="468.2" cy="515.5" rx="12.1" ry="15.6" fill="url(#hole)" filter="url(#soft)"/>
<path d="M463.0,508.6L463.0,521.2M465.2,508.2L478.0,515.9M476.4,518.9L464.8,526.0" stroke="#86b070" stroke-width="1.09" fill="none" stroke-linecap="round"/>
<ellipse cx="495.9" cy="526.8" rx="10.8" ry="11.8" fill="url(#hole)" filter="url(#soft)"/>
<path d="M491.3,520.6L491.3,531.9M493.2,520.3L504.6,527.1M503.2,529.8L492.9,536.2" stroke="#86b070" stroke-width="0.97" fill="none" stroke-linecap="round"/>
<ellipse cx="447.9" cy="541.2" rx="8.3" ry="7.8" fill="url(#hole)" filter="url(#soft)"/>
<ellipse cx="426" cy="548.1" rx="5.5" ry="5.5" fill="url(#hole)" filter="url(#soft)"/>
<ellipse cx="398.8" cy="555.4" rx="14.7" ry="12.5" fill="url(#hole)" filter="url(#soft)"/>
<path d="M393.4,548.3L393.4,561.3M395.7,547.9L408.9,555.8M407.3,558.9L395.3,566.3" stroke="#86b070" stroke-width="1.12" fill="none" stroke-linecap="round"/>
<ellipse cx="474.2" cy="551.9" rx="11.8" ry="14.7" fill="url(#hole)" filter="url(#soft)"/>
<path d="M469.1,545.2L469.1,557.4M471.2,544.8L483.8,552.3M482.2,555.2L470.9,562.2" stroke="#86b070" stroke-width="1.06" fill="none" stroke-linecap="round"/>
<ellipse cx="500.3" cy="558" rx="7" ry="12" fill="url(#hole)" filter="url(#soft)"/>
<ellipse cx="445.6" cy="570.1" rx="15.6" ry="13.9" fill="url(#hole)" filter="url(#soft)"/>
<path d="M439.6,562.2L439.6,576.6M442.1,561.8L456.9,570.5M455.1,574.0L441.7,582.2" stroke="#86b070" stroke-width="1.25" fill="none" stroke-linecap="round"/>
<ellipse cx="372.8" cy="550.2" rx="3" ry="3" fill="url(#hole)" filter="url(#soft)"/>
<ellipse cx="383.2" cy="573.6" rx="6" ry="6" fill="url(#hole)" filter="url(#soft)"/>
<ellipse cx="418.8" cy="578.8" rx="7.8" ry="7.3" fill="url(#hole)" filter="url(#soft)"/>
<ellipse cx="484.6" cy="581.4" rx="8.7" ry="7.8" fill="url(#hole)" filter="url(#soft)"/>
<ellipse cx="403.1" cy="592.7" rx="9.5" ry="7.8" fill="url(#hole)" filter="url(#soft)"/>
<ellipse cx="430" cy="598.7" rx="8.7" ry="7" fill="url(#hole)" filter="url(#soft)"/>
<ellipse cx="450" cy="596.1" rx="6" ry="4.9" fill="url(#hole)" filter="url(#soft)"/>
<ellipse cx="466.4" cy="590.4" rx="4.3" ry="5.2" fill="url(#hole)" filter="url(#soft)"/>
</g>
<text x="440.2" y="648" font-size="15.2" text-anchor="middle" fill="#111" textLength="121.3" lengthAdjust="spacingAndGlyphs">Multiple reflection</text>
<defs>
<filter id="poreTop" color-interpolation-filters="sRGB" filterUnits="userSpaceOnUse" x="270" y="670" width="320" height="210">
 <feTurbulence type="fractalNoise" baseFrequency="0.34" numOctaves="1" seed="11"/>
 <feColorMatrix type="matrix" values="0 0 0 0 0.07  0 0 0 0 0.08  0 0 0 0 0.14  15 0 0 0 -8.6"/>
 <feGaussianBlur stdDeviation="0.35"/>
 <feComposite in2="SourceAlpha" operator="in"/>
</filter>
<filter id="hiTop" color-interpolation-filters="sRGB" filterUnits="userSpaceOnUse" x="270" y="670" width="320" height="210">
 <feTurbulence type="fractalNoise" baseFrequency="0.25" numOctaves="1" seed="5"/>
 <feColorMatrix type="matrix" values="0 0 0 0 0.75  0 0 0 0 0.73  0 0 0 0 0.75  -12 0 0 0 4.8"/>
 <feComposite in2="SourceAlpha" operator="in"/>
</filter>
<filter id="poreFront" color-interpolation-filters="sRGB" filterUnits="userSpaceOnUse" x="270" y="670" width="320" height="210">
 <feTurbulence type="fractalNoise" baseFrequency="0.2 0.3" numOctaves="1" seed="4"/>
 <feColorMatrix type="matrix" values="0 0 0 0 0.10  0 0 0 0 0.13  0 0 0 0 0.24  14 0 0 0 -7.2"/>
 <feGaussianBlur stdDeviation="0.4"/>
 <feComposite in2="SourceAlpha" operator="in"/>
</filter>
<filter id="streakRight" color-interpolation-filters="sRGB" filterUnits="userSpaceOnUse" x="270" y="670" width="320" height="210">
 <feTurbulence type="fractalNoise" baseFrequency="0.5 0.2" numOctaves="2" seed="9"/>
 <feColorMatrix type="matrix" values="0 0 0 0 0.36  0 0 0 0 0.40  0 0 0 0 0.52  12 0 0 0 -6.6"/>
 <feComposite in2="SourceAlpha" operator="in"/>
</filter>
<filter id="rough" color-interpolation-filters="sRGB" filterUnits="userSpaceOnUse" x="270" y="670" width="320" height="210">
 <feTurbulence type="fractalNoise" baseFrequency="0.45" numOctaves="2" seed="2" result="n"/>
 <feDisplacementMap in="SourceAlpha" in2="n" scale="11" xChannelSelector="R" yChannelSelector="G" result="a"/>
 <feComposite in="SourceGraphic" in2="a" operator="in"/>
</filter>
</defs>
<g filter="url(#rough)">
<path d="M287,749 C300,735 340,712 365,701 C380,694 392,689 400,688 C450,694 520,704 566,712 C555,732 536,768 524,789 C519,794 514,797 510,800 C450,790 340,765 287,749Z" fill="#88848a"/>
<path d="M287,749 C300,735 340,712 365,701 C380,694 392,689 400,688 C450,694 520,704 566,712 C555,732 536,768 524,789 C519,794 514,797 510,800 C450,790 340,765 287,749Z" fill="#000" filter="url(#hiTop)" opacity="0.6"/>
<path d="M287,749 C300,735 340,712 365,701 C380,694 392,689 400,688 C450,694 520,704 566,712 C555,732 536,768 524,789 C519,794 514,797 510,800 C450,790 340,765 287,749Z" fill="#000" filter="url(#poreTop)"/>
<path d="M287,749 C340,765 450,790 510,800 C507,810 504,820 502,828 C500,840 499,850 499,858 C460,848 400,830 349,818 C330,812 310,806 296,798 Z" fill="#8e8a90"/>
<path d="M287,749 C340,765 450,790 510,800 C507,810 504,820 502,828 C500,840 499,850 499,858 C460,848 400,830 349,818 C330,812 310,806 296,798 Z" fill="#000" filter="url(#poreFront)"/>
<path d="M566,712 C566,722 565,732 564,738 C560,752 555,768 549,781 C542,795 535,808 528,819 C520,832 510,846 499,858 C499,850 500,840 502,828 C504,820 507,810 510,800 C514,797 519,794 524,789 C536,768 555,732 566,712 Z" fill="#283252"/>
<path d="M566,712 C566,722 565,732 564,738 C560,752 555,768 549,781 C542,795 535,808 528,819 C520,832 510,846 499,858 C499,850 500,840 502,828 C504,820 507,810 510,800 C514,797 519,794 524,789 C536,768 555,732 566,712 Z" fill="#000" filter="url(#streakRight)"/>
</g>
<path d="M389.1,681.0 L394.6,682.4 L394.5,685.5 L378.5,689.6 L378.9,692.3 L393.9,696.9 L393.8,699.6 L378.8,703.7 L379.2,706.4 L391.2,709.6" stroke="#3b77c8" stroke-width="4.4" fill="none" stroke-linejoin="round" stroke-linecap="round"/><path d="M387.2,708.1 L393.0,710.8 L385.0,720.0 Z" fill="#3b77c8" stroke="#3b77c8" stroke-width="1.5" stroke-linejoin="round"/><path d="M389.1,681.0 L394.6,682.4 L394.5,685.5 L378.5,689.6 L378.9,692.3 L393.9,696.9 L393.8,699.6 L378.8,703.7 L379.2,706.4 L391.2,709.6" stroke="#6ea8ea" stroke-width="1.8" fill="none" stroke-linejoin="round" transform="translate(-0.3,-1.1)" opacity="0.55"/>
<path d="M427.5,683.5 L433.0,684.6 L432.9,687.0 L416.8,690.2 L417.2,692.4 L432.1,695.9 L432.0,698.0 L416.9,701.2 L417.3,703.4 L429.3,705.8" stroke="#3b77c8" stroke-width="4.4" fill="none" stroke-linejoin="round" stroke-linecap="round"/><path d="M425.3,704.3 L431.1,707.0 L423.0,714.0 Z" fill="#3b77c8" stroke="#3b77c8" stroke-width="1.5" stroke-linejoin="round"/><path d="M427.5,683.5 L433.0,684.6 L432.9,687.0 L416.8,690.2 L417.2,692.4 L432.1,695.9 L432.0,698.0 L416.9,701.2 L417.3,703.4 L429.3,705.8" stroke="#6ea8ea" stroke-width="1.8" fill="none" stroke-linejoin="round" transform="translate(-0.3,-1.1)" opacity="0.55"/>
<path d="M465.5,687.7 L470.9,689.1 L470.7,692.5 L454.3,696.8 L454.6,699.7 L469.3,704.5 L469.1,707.4 L453.8,711.7 L454.0,714.6 L465.8,718.0" stroke="#3b77c8" stroke-width="4.4" fill="none" stroke-linejoin="round" stroke-linecap="round"/><path d="M461.8,716.5 L467.6,719.2 L459.0,729.0 Z" fill="#3b77c8" stroke="#3b77c8" stroke-width="1.5" stroke-linejoin="round"/><path d="M465.5,687.7 L470.9,689.1 L470.7,692.5 L454.3,696.8 L454.6,699.7 L469.3,704.5 L469.1,707.4 L453.8,711.7 L454.0,714.6 L465.8,718.0" stroke="#6ea8ea" stroke-width="1.8" fill="none" stroke-linejoin="round" transform="translate(-0.3,-1.1)" opacity="0.55"/>
<path d="M509.5,694.0 L514.9,695.5 L514.8,698.9 L498.6,703.3 L498.9,706.2 L513.7,711.1 L513.5,714.0 L498.3,718.4 L498.7,721.3 L510.5,724.8" stroke="#3b77c8" stroke-width="4.4" fill="none" stroke-linejoin="round" stroke-linecap="round"/><path d="M506.5,723.3 L512.3,726.0 L504.0,736.0 Z" fill="#3b77c8" stroke="#3b77c8" stroke-width="1.5" stroke-linejoin="round"/><path d="M509.5,694.0 L514.9,695.5 L514.8,698.9 L498.6,703.3 L498.9,706.2 L513.7,711.1 L513.5,714.0 L498.3,718.4 L498.7,721.3 L510.5,724.8" stroke="#6ea8ea" stroke-width="1.8" fill="none" stroke-linejoin="round" transform="translate(-0.3,-1.1)" opacity="0.55"/>
<path d="M411.0,725.5 L416.6,713.5 L420.7,714.7 Q443.0,709.5 455.0,720.3 Q442.0,717.0 423.3,724.7 L422.0,730.5 Z" fill="#d1141c" stroke="#e46a6a" stroke-width="0.6" stroke-linejoin="round"/>
<path d="M361.5,706.0 L366.9,707.4 L366.8,710.8 L350.6,715.1 L350.9,717.9 L365.7,722.7 L365.5,725.5 L350.3,729.8 L350.7,732.7 L362.5,736.0" stroke="#3b77c8" stroke-width="4.4" fill="none" stroke-linejoin="round" stroke-linecap="round"/><path d="M358.5,734.5 L364.3,737.2 L356.0,747.0 Z" fill="#3b77c8" stroke="#3b77c8" stroke-width="1.5" stroke-linejoin="round"/><path d="M361.5,706.0 L366.9,707.4 L366.8,710.8 L350.6,715.1 L350.9,717.9 L365.7,722.7 L365.5,725.5 L350.3,729.8 L350.7,732.7 L362.5,736.0" stroke="#6ea8ea" stroke-width="1.8" fill="none" stroke-linejoin="round" transform="translate(-0.3,-1.1)" opacity="0.55"/>
<path d="M402.5,714.0 L407.9,715.5 L407.5,718.9 L391.1,723.3 L391.3,726.2 L405.9,731.1 L405.6,734.0 L390.2,738.4 L390.4,741.3 L402.1,744.8" stroke="#3b77c8" stroke-width="4.4" fill="none" stroke-linejoin="round" stroke-linecap="round"/><path d="M398.1,743.3 L403.9,746.0 L395.0,756.0 Z" fill="#3b77c8" stroke="#3b77c8" stroke-width="1.5" stroke-linejoin="round"/><path d="M402.5,714.0 L407.9,715.5 L407.5,718.9 L391.1,723.3 L391.3,726.2 L405.9,731.1 L405.6,734.0 L390.2,738.4 L390.4,741.3 L402.1,744.8" stroke="#6ea8ea" stroke-width="1.8" fill="none" stroke-linejoin="round" transform="translate(-0.3,-1.1)" opacity="0.55"/>
<path d="M444.5,720.0 L449.9,721.4 L449.5,724.7 L433.1,728.8 L433.3,731.6 L447.9,736.3 L447.6,739.1 L432.2,743.3 L432.4,746.0 L444.1,749.3" stroke="#3b77c8" stroke-width="4.4" fill="none" stroke-linejoin="round" stroke-linecap="round"/><path d="M440.1,747.8 L445.9,750.5 L437.0,760.0 Z" fill="#3b77c8" stroke="#3b77c8" stroke-width="1.5" stroke-linejoin="round"/><path d="M444.5,720.0 L449.9,721.4 L449.5,724.7 L433.1,728.8 L433.3,731.6 L447.9,736.3 L447.6,739.1 L432.2,743.3 L432.4,746.0 L444.1,749.3" stroke="#6ea8ea" stroke-width="1.8" fill="none" stroke-linejoin="round" transform="translate(-0.3,-1.1)" opacity="0.55"/>
<path d="M485.5,723.5 L490.9,725.0 L490.7,728.6 L474.3,733.1 L474.6,736.1 L489.3,741.2 L489.1,744.2 L473.8,748.8 L474.0,751.8 L485.8,755.4" stroke="#3b77c8" stroke-width="4.4" fill="none" stroke-linejoin="round" stroke-linecap="round"/><path d="M481.8,753.9 L487.6,756.6 L479.0,767.0 Z" fill="#3b77c8" stroke="#3b77c8" stroke-width="1.5" stroke-linejoin="round"/><path d="M485.5,723.5 L490.9,725.0 L490.7,728.6 L474.3,733.1 L474.6,736.1 L489.3,741.2 L489.1,744.2 L473.8,748.8 L474.0,751.8 L485.8,755.4" stroke="#6ea8ea" stroke-width="1.8" fill="none" stroke-linejoin="round" transform="translate(-0.3,-1.1)" opacity="0.55"/>
<path d="M375.0,751.0 L380.7,738.8 L384.9,740.0 Q407.5,734.7 419.7,745.7 Q406.5,742.4 387.5,750.2 L386.2,756.1 Z" fill="#d1141c" stroke="#e46a6a" stroke-width="0.6" stroke-linejoin="round"/>
<path d="M459.2,747.0 L465.0,734.5 L469.3,735.7 Q492.5,730.3 505.0,741.6 Q491.5,738.1 472.0,746.2 L470.7,752.2 Z" fill="#d1141c" stroke="#e46a6a" stroke-width="0.6" stroke-linejoin="round"/>
<path d="M424.9,772.0 L430.6,759.8 L434.8,761.0 Q457.4,755.7 469.6,766.7 Q456.4,763.4 437.4,771.2 L436.1,777.1 Z" fill="#d1141c" stroke="#e46a6a" stroke-width="0.6" stroke-linejoin="round"/>
<path d="M354.3,818.5 L357.8,819.0 L358.9,827.9 L354.9,829.9 L354.9,845.4 L359.9,848.5 L352.7,858.8 L343.7,845.0 L349.5,844.8 L349.5,828.2 L354.9,826.9Z" fill="#cf5a61"/><path d="M343.7,845.0 L349.5,844.8 L349.5,828.2 L352.5,827.7 L352.5,846.3 L352.7,858.8Z" fill="#a9303a" opacity="0.85"/>
<path d="M407.5,832.8 L411.0,833.3 L412.1,842.2 L408.1,844.2 L408.1,857.5 L413.1,860.6 L405.9,870.9 L396.9,857.1 L402.7,856.9 L402.7,842.5 L408.1,841.2Z" fill="#cf5a61"/><path d="M396.9,857.1 L402.7,856.9 L402.7,842.5 L405.7,842.0 L405.7,858.4 L405.9,870.9Z" fill="#a9303a" opacity="0.85"/>
<path d="M463.1,847.1 L466.6,847.6 L467.7,856.5 L463.7,858.5 L463.7,869.3 L468.7,872.4 L461.5,882.7 L452.5,868.9 L458.3,868.7 L458.3,856.8 L463.7,855.5Z" fill="#cf5a61"/><path d="M452.5,868.9 L458.3,868.7 L458.3,856.8 L461.3,856.3 L461.3,870.2 L461.5,882.7Z" fill="#a9303a" opacity="0.85"/>
<path d="M531.0,806.8 L534.5,807.3 L535.6,816.2 L531.6,818.2 L531.6,834.2 L536.6,837.3 L529.4,847.6 L520.4,833.8 L526.2,833.6 L526.2,816.5 L531.6,815.2Z" fill="#cf5a61"/><path d="M520.4,833.8 L526.2,833.6 L526.2,816.5 L529.2,816.0 L529.2,835.1 L529.4,847.6Z" fill="#a9303a" opacity="0.85"/>
<path d="M98.7,734.5 L102.3,735.4 L102.3,737.5 L92.1,741.7 L92.6,743.5 L101.0,747.7 L100.6,749.5 L90.8,753.7 L91.3,755.5 L99.8,759.7 L99.3,761.5" stroke="#3a76c6" stroke-width="3.4" fill="none" stroke-linejoin="round" stroke-linecap="round"/><path d="M98.7,734.5 L102.3,735.4 L102.3,737.5 L92.1,741.7 L92.6,743.5 L101.0,747.7 L100.6,749.5 L90.8,753.7 L91.3,755.5 L99.8,759.7 L99.3,761.5" stroke="#70acec" stroke-width="1.3" fill="none" stroke-linejoin="round" transform="translate(0.2,-0.7)" opacity="0.8"/>
<path d="M84.3,799.0 L88.2,790.7 L91.0,791.6 Q106.3,788.0 114.6,795.4 Q105.6,793.1 92.8,798.4 L91.9,802.4 Z" fill="#d1141c" stroke="#e46a6a" stroke-width="0.6" stroke-linejoin="round"/>
<path d="M101.0,816.5 L103.6,816.9 L104.5,823.5 L101.5,825.0 L101.5,836.4 L105.2,838.7 L99.8,846.4 L93.0,836.0 L97.4,835.9 L97.4,823.8 L101.5,822.8Z" fill="#cf5a61"/><path d="M93.0,836.0 L97.4,835.9 L97.4,823.8 L99.7,823.4 L99.7,837.0 L99.8,846.4Z" fill="#a9303a" opacity="0.85"/>
<text x="122.7" y="752.8" font-size="15.3" fill="#111" textLength="120.3" lengthAdjust="spacingAndGlyphs">Incident EM wave</text>
<text x="122.7" y="799" font-size="15.3" fill="#111" textLength="126.5" lengthAdjust="spacingAndGlyphs">Reflected EM wave</text>
<text x="122.7" y="838.3" font-size="15.3" fill="#111" textLength="146.1" lengthAdjust="spacingAndGlyphs">Transmitted EM wave</text>
</svg></body></html>
